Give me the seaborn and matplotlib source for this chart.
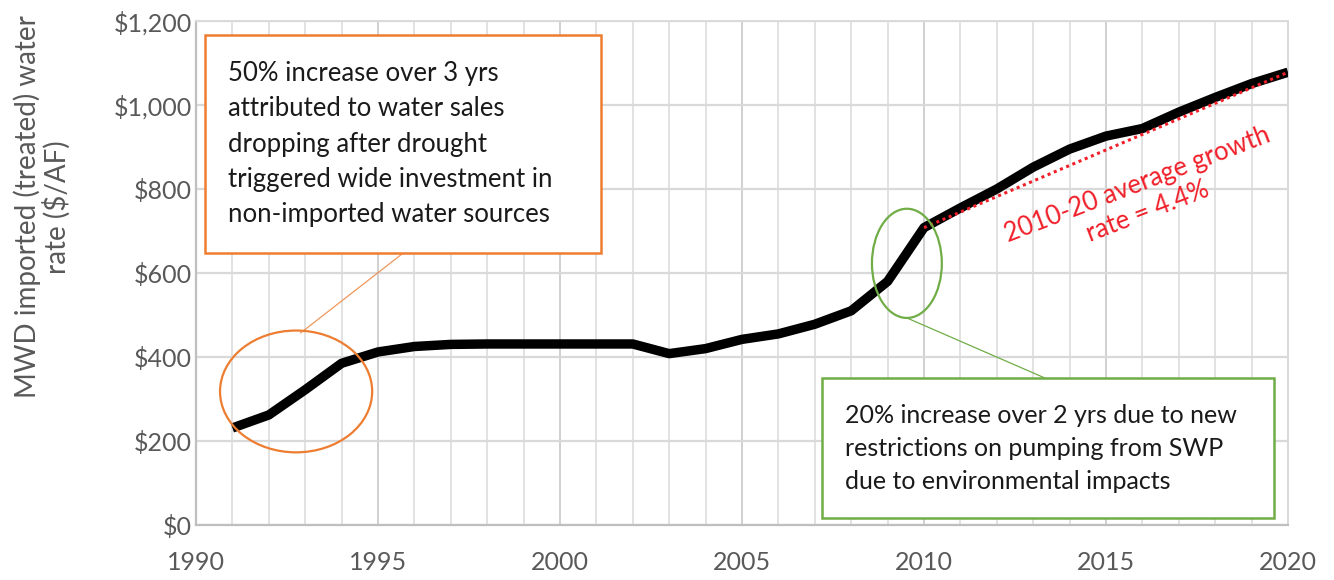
import matplotlib
matplotlib.use("Agg")
import matplotlib.pyplot as plt
from matplotlib.patches import Ellipse, Rectangle
from matplotlib.ticker import FuncFormatter, MultipleLocator
import pandas as pd
import seaborn as sns

# MWD imported (treated) water rate, $/AF
years = [1991, 1992, 1993, 1994, 1995, 1996, 1997, 1998, 1999, 2000,
         2001, 2002, 2003, 2004, 2005, 2006, 2007, 2008, 2009, 2010,
         2011, 2012, 2013, 2014, 2015, 2016, 2017, 2018, 2019, 2020]
rates = [231, 262, 322, 385, 412, 425, 430, 431, 431, 431,
         431, 431, 408, 420, 442, 455, 478, 510, 580, 708,
         755, 800, 852, 895, 926, 944, 983, 1018, 1051, 1078]

# average-growth trend runs between these two years
trend_years = [2010, 2020]

x_ticks = [1990, 1995, 2000, 2005, 2010, 2015, 2020]
y_ticks = [0, 200, 400, 600, 800, 1000, 1200]

note_orange = ("50% increase over 3 yrs\nattributed to water sales\n"
               "dropping after drought\ntriggered wide investment in\n"
               "non-imported water sources")
note_green = ("20% increase over 2 yrs due to new\n"
              "restrictions on pumping from SWP\n"
              "due to environmental impacts")
note_red = "2010-20 average growth\nrate = 4.4%"
y_title = "MWD imported (treated) water\nrate ($/AF)"

sns.set_theme(style="white")
plt.rcParams["font.family"] = ["Lato", "DejaVu Sans"]

ORANGE = "#ED7D31"
GREEN = "#70AD47"
RED = "#F0202A"
TICK_GREY = "#595959"

fig = plt.figure(figsize=(13.34, 5.8), dpi=100)
ax = fig.add_axes([196 / 1334, 55 / 580, 1092 / 1334, 504 / 580])

df = pd.DataFrame({"year": years, "rate": rates})
sns.lineplot(data=df, x="year", y="rate", ax=ax, color="black",
             linewidth=6.8, solid_joinstyle="round", solid_capstyle="butt",
             zorder=4)

# straight trend segment for 2010-2020
trend_rates = [rates[years.index(y)] for y in trend_years]
ax.plot(trend_years, trend_rates, color=RED, linestyle=(0, (1, 1.2)),
        linewidth=2.2, zorder=5)

ax.set_xlim(1990, 2020)
ax.set_ylim(0, 1200)
ax.set_xticks(x_ticks)
ax.set_yticks(y_ticks)
ax.xaxis.set_minor_locator(MultipleLocator(1))
ax.yaxis.set_major_formatter(FuncFormatter(lambda v, p: f"${v:,.0f}"))
ax.set_xlabel("")
ax.set_ylabel("")

ax.grid(which="major", axis="x", color="#d0d0d0", linewidth=1.4)
ax.grid(which="minor", axis="x", color="#e2e2e2", linewidth=1.4)
ax.grid(which="major", axis="y", color="#d9d9d9", linewidth=1.6)
ax.set_axisbelow(True)

ax.tick_params(axis="both", which="both", length=0, labelsize=18,
               labelcolor=TICK_GREY)
ax.tick_params(axis="x", pad=19)
ax.tick_params(axis="y", pad=3)

for side in ["left", "bottom"]:
    ax.spines[side].set_color("#bfbfbf")
    ax.spines[side].set_linewidth(1.6)
for side in ["top", "right"]:
    ax.spines[side].set_color("#dadada")
    ax.spines[side].set_linewidth(1.4)

fig.text(42 / 1334, 1 - 207 / 580, y_title, rotation=90, ha="center",
         va="center", multialignment="center", fontsize=20,
         color=TICK_GREY, linespacing=1.1)

# orange callout: early-1990s rise
ax.add_patch(Ellipse((1992.75, 318), 4.18, 290, fill=False,
                     edgecolor=ORANGE, linewidth=1.6, zorder=6))
ax.plot([1992.87, 1995.7], [457, 648], color=ORANGE, linewidth=0.9,
        alpha=0.8, zorder=3)
ax.add_patch(Rectangle((1990.25, 648), 10.88, 519, fill=True,
                       facecolor="white", edgecolor=ORANGE, linewidth=1.8,
                       zorder=6))
ax.text(1990.88, 907, note_orange, ha="left", va="center", fontsize=18.5,
        color="#1a1a1a", linespacing=1.52, zorder=7)

# green callout: 2009-10 jump
ax.add_patch(Ellipse((2009.53, 623), 1.92, 260, fill=False,
                     edgecolor=GREEN, linewidth=1.6, zorder=6))
ax.plot([2009.53, 2013.32], [493, 350], color=GREEN, linewidth=0.9,
        zorder=3)
ax.add_patch(Rectangle((2007.2, 17), 12.42, 333, fill=True,
                       facecolor="white", edgecolor=GREEN, linewidth=1.8,
                       zorder=6))
ax.text(2007.83, 183, note_green, ha="left", va="center", fontsize=18,
        color="#1a1a1a", linespacing=1.52, zorder=7)

ax.text(2016.0, 779, note_red, ha="center", va="center", rotation=21,
        rotation_mode="anchor", fontsize=18.5, color=RED, linespacing=1.2,
        multialignment="center", zorder=7)

fig.savefig("out.png", dpi=100, facecolor="white")
